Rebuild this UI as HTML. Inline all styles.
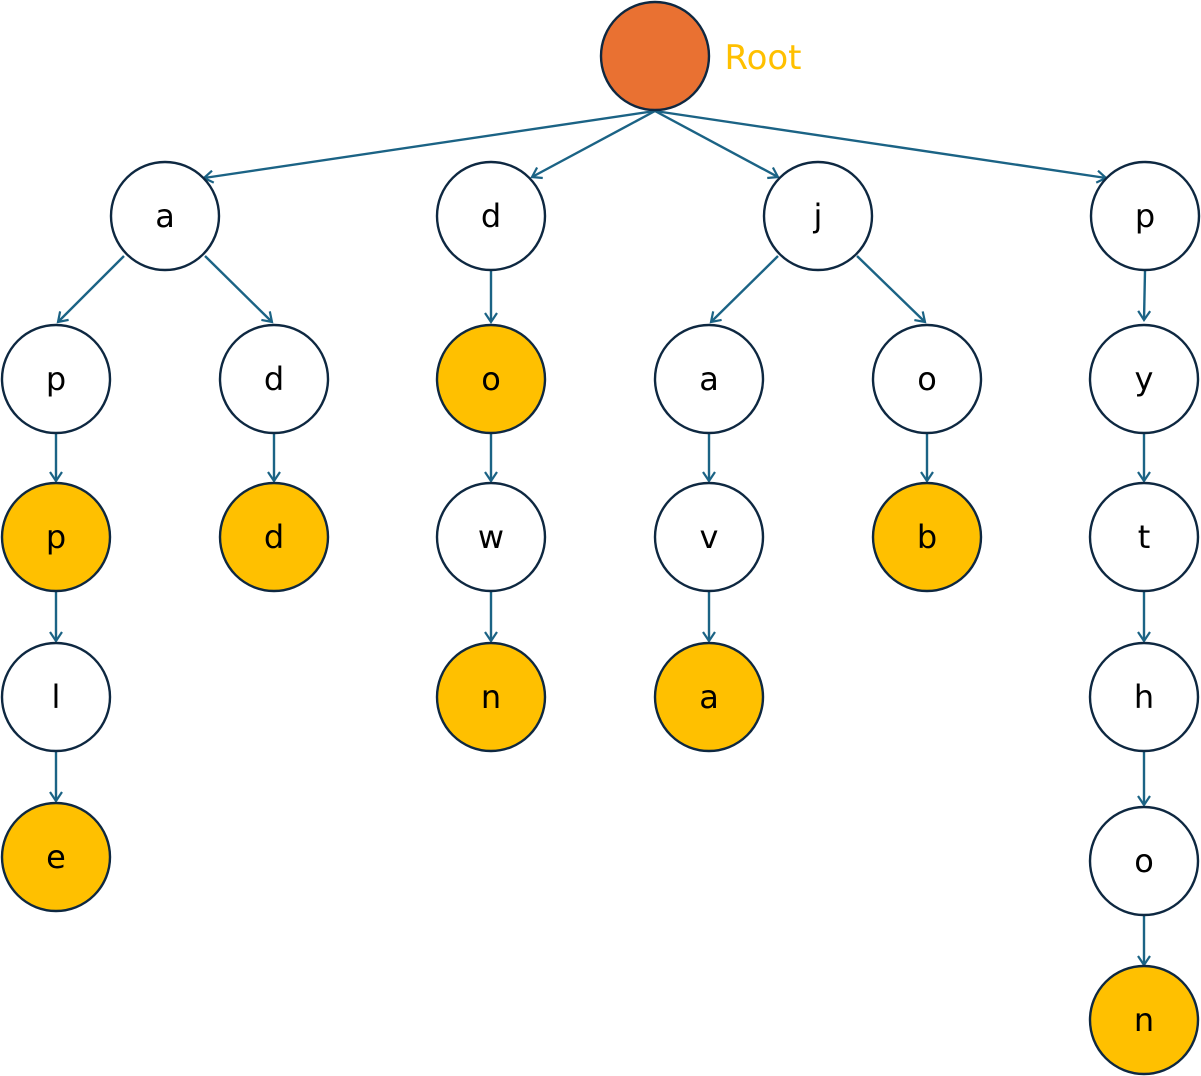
<!DOCTYPE html>
<html><head><style>body{margin:0;background:#fff}svg{display:block}text{font-family:"DejaVu Sans","Liberation Sans",sans-serif;font-size:32px;text-anchor:middle;dominant-baseline:central;fill:#000}</style></head><body>
<svg width="1201" height="1076" viewBox="0 0 1201 1076">
<defs><marker id="m" markerWidth="14" markerHeight="14" refX="11" refY="7" orient="auto" markerUnits="userSpaceOnUse"><polyline points="2,1 11,7 2,13" fill="none" stroke="#1B6385" stroke-width="2.2"/></marker></defs>
<g stroke="#1B6385" stroke-width="2.4" fill="none" marker-end="url(#m)">
<line x1="655" y1="111" x2="204" y2="178"/>
<line x1="655" y1="111" x2="532" y2="177"/>
<line x1="655" y1="111" x2="778" y2="177"/>
<line x1="655" y1="111" x2="1106" y2="178"/>
<line x1="124" y1="256" x2="58" y2="322"/>
<line x1="205" y1="256" x2="272" y2="322"/>
<line x1="778" y1="256" x2="711" y2="322"/>
<line x1="857" y1="256" x2="925" y2="322"/>
<line x1="491" y1="271" x2="491" y2="322"/>
<line x1="1145" y1="271" x2="1144" y2="320"/>
<line x1="56" y1="434" x2="56" y2="481"/>
<line x1="274" y1="434" x2="274" y2="481"/>
<line x1="491" y1="434" x2="491" y2="481"/>
<line x1="709" y1="434" x2="709" y2="481"/>
<line x1="927" y1="434" x2="927" y2="481"/>
<line x1="1144" y1="434" x2="1144" y2="481"/>
<line x1="56" y1="592" x2="56" y2="641"/>
<line x1="491" y1="592" x2="491" y2="641"/>
<line x1="709" y1="592" x2="709" y2="641"/>
<line x1="1144" y1="592" x2="1144" y2="641"/>
<line x1="56" y1="752" x2="56" y2="801"/>
<line x1="1144" y1="752" x2="1144" y2="805"/>
<line x1="1144" y1="916" x2="1144" y2="965"/>
</g>
<g stroke="#0E2841" stroke-width="2.4">
<circle cx="655" cy="56" r="54" fill="#E97132"/>
<circle cx="165" cy="216" r="54" fill="#fff"/>
<circle cx="491" cy="216" r="54" fill="#fff"/>
<circle cx="818" cy="216" r="54" fill="#fff"/>
<circle cx="1145" cy="216" r="54" fill="#fff"/>
<circle cx="56" cy="379" r="54" fill="#fff"/>
<circle cx="274" cy="379" r="54" fill="#fff"/>
<circle cx="491" cy="379" r="54" fill="#FFC000"/>
<circle cx="709" cy="379" r="54" fill="#fff"/>
<circle cx="927" cy="379" r="54" fill="#fff"/>
<circle cx="1144" cy="379" r="54" fill="#fff"/>
<circle cx="56" cy="537" r="54" fill="#FFC000"/>
<circle cx="274" cy="537" r="54" fill="#FFC000"/>
<circle cx="491" cy="537" r="54" fill="#fff"/>
<circle cx="709" cy="537" r="54" fill="#fff"/>
<circle cx="927" cy="537" r="54" fill="#FFC000"/>
<circle cx="1144" cy="537" r="54" fill="#fff"/>
<circle cx="56" cy="697" r="54" fill="#fff"/>
<circle cx="491" cy="697" r="54" fill="#FFC000"/>
<circle cx="709" cy="697" r="54" fill="#FFC000"/>
<circle cx="1144" cy="697" r="54" fill="#fff"/>
<circle cx="56" cy="857" r="54" fill="#FFC000"/>
<circle cx="1144" cy="861" r="54" fill="#fff"/>
<circle cx="1144" cy="1020" r="54" fill="#FFC000"/>
</g>
<text x="763" y="58" style="fill:#FFC000;font-size:34px">Root</text>
<text x="165" y="216">a</text><text x="491" y="216">d</text><text x="818" y="216">j</text><text x="1145" y="216">p</text>
<text x="56" y="379">p</text><text x="274" y="379">d</text><text x="491" y="379">o</text><text x="709" y="379">a</text><text x="927" y="379">o</text><text x="1144" y="379">y</text>
<text x="56" y="537">p</text><text x="274" y="537">d</text><text x="491" y="537">w</text><text x="709" y="537">v</text><text x="927" y="537">b</text><text x="1144" y="537">t</text>
<text x="56" y="697">l</text><text x="491" y="697">n</text><text x="709" y="697">a</text><text x="1144" y="697">h</text>
<text x="56" y="857">e</text><text x="1144" y="861">o</text><text x="1144" y="1020">n</text>
</svg>
</body></html>
